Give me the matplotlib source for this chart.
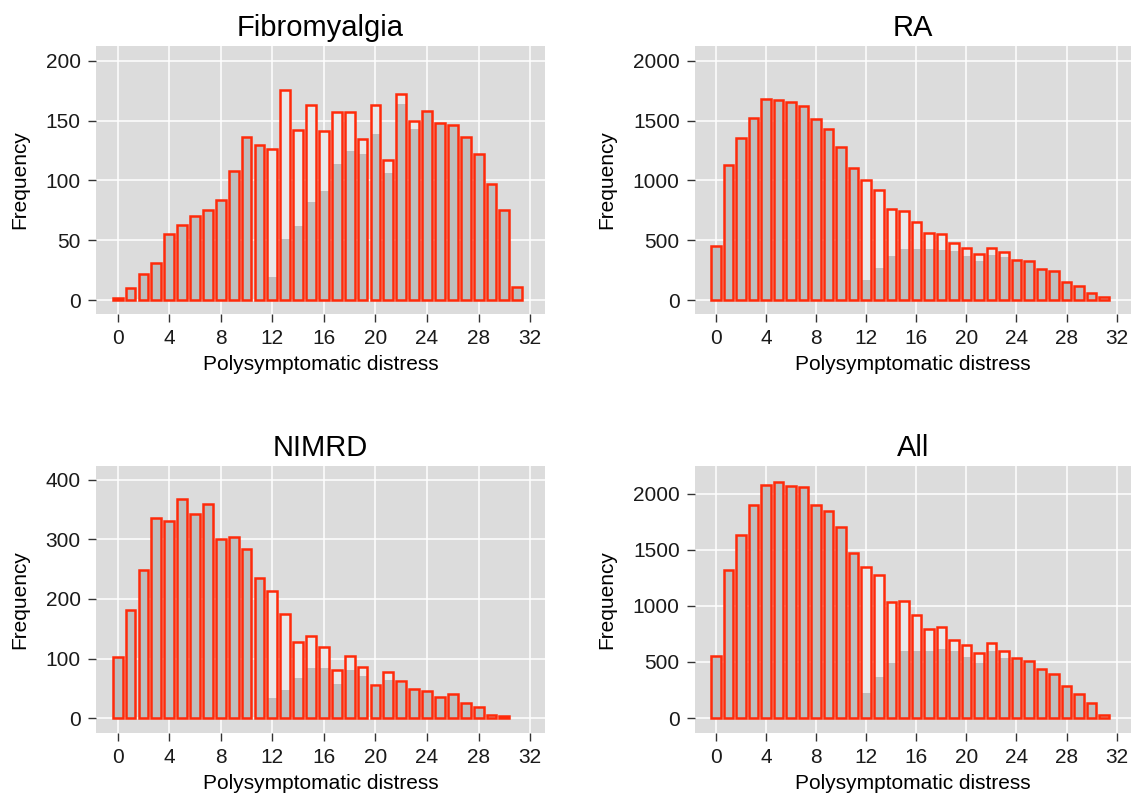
import numpy as np
import matplotlib
matplotlib.use("Agg")
import matplotlib.pyplot as plt

plt.rcParams['font.family'] = ['Liberation Sans', 'DejaVu Sans']

# bin values (polysymptomatic distress score)
fibro_total = [2, 10, 22, 31, 55, 63, 70, 75, 84, 108, 136, 130, 126, 176, 142, 163,
               141, 157, 157, 135, 163, 117, 172, 150, 158, 148, 146, 136, 122, 97, 75, 11]
fibro_gray = fibro_total[:12] + [19, 51, 62, 82, 91, 114, 125, 122, 139, 106, 164, 143] + fibro_total[24:]

ra_total = [452, 1130, 1355, 1526, 1685, 1673, 1654, 1623, 1512, 1431, 1283, 1107, 1007, 923, 761, 742,
            653, 561, 555, 474, 435, 388, 435, 399, 335, 326, 257, 240, 153, 114, 59, 25]
ra_gray = ra_total[:12] + [170, 270, 368, 430, 430, 430, 421, 407, 368, 329, 379, 357] + ra_total[24:]

nimrd_total = [103, 181, 249, 336, 331, 368, 342, 359, 301, 304, 283, 235, 214, 174, 127, 137,
               119, 80, 104, 86, 55, 77, 62, 48, 46, 35, 40, 25, 19, 5, 3]
nimrd_gray = nimrd_total[:12] + [34, 47, 67, 84, 84, 57, 81, 71, 52, 64, 59] + nimrd_total[23:]

all_total = [556, 1323, 1630, 1897, 2077, 2107, 2068, 2062, 1897, 1849, 1704, 1474, 1349, 1275, 1036, 1045,
             917, 796, 814, 692, 654, 583, 672, 601, 536, 509, 441, 394, 290, 216, 133, 30]
all_gray = all_total[:12] + [222, 367, 494, 595, 595, 595, 615, 595, 547, 494, 595, 533] + all_total[24:]

titles = ["Fibromyalgia", "RA", "NIMRD", "All"]
x_ticks = [0, 4, 8, 12, 16, 20, 24, 28, 32]

W, H = 1132, 797
fig = plt.figure(figsize=(W / 100, H / 100), dpi=100)

# panel boxes in pixels: left, top, right, bottom
boxes = [(96, 46, 545, 314), (695, 46, 1131, 314), (96, 466, 545, 733), (695, 466, 1131, 733)]
panels = [
    (fibro_total, fibro_gray, [0, 50, 100, 150, 200], (-11.7, 212.5)),
    (ra_total, ra_gray, [0, 500, 1000, 1500, 2000], (-117, 2125)),
    (nimrd_total, nimrd_gray, [0, 100, 200, 300, 400], (-25, 423)),
    (all_total, all_gray, [0, 500, 1000, 1500, 2000], (-133, 2246)),
]

red = '#ff2a0a'
bw = 0.76
for i, (total, gray, yt, yl) in enumerate(panels):
    l, t, r, b = boxes[i]
    ax = fig.add_axes([l / W, 1 - b / H, (r - l) / W, (b - t) / H])
    ax.set_facecolor('#dcdcdc')
    for s in ax.spines.values():
        s.set_visible(False)
    ax.grid(True, color='white', linewidth=1.1)
    ax.set_axisbelow(True)

    x = np.arange(len(total))
    ax.bar(x, total, width=bw, color='#e9e9e9', linewidth=0, zorder=2)
    ax.bar(x, gray, width=bw, color='#bebebe', linewidth=0, zorder=3)
    ax.bar(x, total, width=bw, fill=False, edgecolor=red, linewidth=1.8, zorder=4)

    ax.set_xlim(-1.68, 33.15)
    ax.set_ylim(*yl)
    ax.set_xticks(x_ticks)
    ax.set_yticks(yt)
    ax.tick_params(axis='both', labelsize=15, length=6, width=1, color='#333333',
                   labelcolor='#1a1a1a', pad=5)
    ax.set_title(titles[i], fontsize=21, pad=7)
    ax.set_xlabel("Polysymptomatic distress", fontsize=15, labelpad=5)
    ax.set_ylabel("Frequency", fontsize=15, labelpad=12)

fig.savefig("out.png", dpi=100)
